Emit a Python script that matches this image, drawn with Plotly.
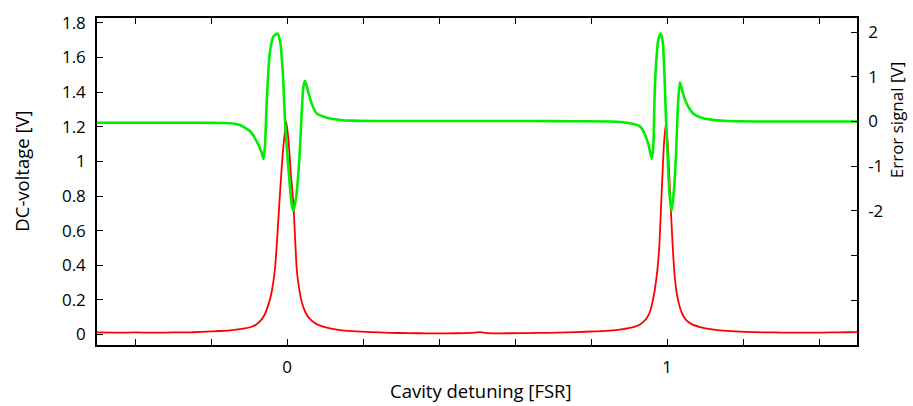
import plotly.graph_objects as go

# ---- DC-voltage (red, left axis) ----
dc_x = [-0.5, -0.45, -0.4, -0.35, -0.3, -0.25, -0.2, -0.15, -0.12, -0.093, -0.075, -0.06,
        -0.0465, -0.04, -0.0316, -0.026, -0.020, -0.015, -0.009, -0.002, 0.004, 0.010, 0.0167,
        0.021, 0.0255, 0.031, 0.0386, 0.048, 0.06, 0.078, 0.095, 0.113, 0.14, 0.17, 0.22, 0.27,
        0.32, 0.37, 0.42, 0.47, 0.495, 0.51, 0.525, 0.56, 0.61, 0.66, 0.71, 0.76, 0.81, 0.85,
        0.88, 0.911, 0.93, 0.945, 0.955, 0.962, 0.968, 0.975, 0.980, 0.984, 0.988, 0.992, 0.997,
        1.002, 1.006, 1.0097, 1.014, 1.018, 1.023, 1.030, 1.04, 1.05, 1.065, 1.087, 1.11,
        1.14, 1.18, 1.23, 1.28, 1.33, 1.38, 1.43, 1.47, 1.5]
dc_y = [0.012, 0.011, 0.012, 0.011, 0.012, 0.013, 0.018, 0.024, 0.032, 0.045, 0.068, 0.11,
        0.19, 0.25, 0.38, 0.55, 0.76, 0.93, 1.10, 1.23, 1.12, 0.93, 0.76,
        0.57, 0.38, 0.28, 0.19, 0.13, 0.09, 0.06, 0.045, 0.036, 0.026, 0.02, 0.014, 0.010,
        0.008, 0.007, 0.007, 0.008, 0.011, 0.014, 0.008, 0.007, 0.008, 0.009, 0.011, 0.014, 0.018,
        0.022, 0.030, 0.043, 0.06, 0.09, 0.13, 0.19, 0.26, 0.38, 0.52, 0.72, 0.92, 1.10, 1.22,
        1.10, 0.92, 0.74, 0.55, 0.40, 0.28, 0.19, 0.12, 0.085, 0.06, 0.043, 0.032,
        0.024, 0.018, 0.014, 0.012, 0.011, 0.011, 0.012, 0.013, 0.014]

# ---- Error signal (green, right axis) ----
err_x = [-0.5, -0.4, -0.3, -0.22, -0.17, -0.15, -0.124, -0.097, -0.080, -0.067, -0.062, -0.058,
         -0.0535, -0.049, -0.0447, -0.036, -0.0255, -0.018, -0.0113, -0.0053, -0.0009, 0.006,
         0.0123, 0.0167, 0.0237, 0.0325, 0.0386, 0.043, 0.0474, 0.056, 0.065, 0.078, 0.095,
         0.115, 0.14, 0.17, 0.25, 0.35, 0.45, 0.55, 0.65, 0.75, 0.85, 0.9026, 0.929, 0.942,
         0.951, 0.960, 0.964, 0.968, 0.973, 0.977, 0.983, 0.9887, 0.993, 0.9974, 1.002, 1.006,
         1.0123, 1.018, 1.024, 1.029, 1.034, 1.041, 1.0518, 1.069, 1.0956, 1.125, 1.16, 1.25,
         1.35, 1.45, 1.5]
err_y = [-0.03, -0.03, -0.03, -0.03, -0.035, -0.04, -0.08, -0.22, -0.44, -0.69, -0.84, -0.55,
         0.40, 1.13, 1.57, 1.90, 1.97, 1.79, 1.13, 0.04, -0.55, -1.28,
         -1.86, -2.0, -1.72, -0.84, 0.18, 0.77, 0.91, 0.66, 0.40, 0.18, 0.11,
         0.06, 0.035, 0.02, 0.01, 0.01, 0.01, 0.01, 0.01, 0.005, 0.0, -0.04, -0.11, -0.29,
         -0.51, -0.84, -0.55, 0.77, 1.50, 1.83, 1.97, 1.79, 1.13, 0.04, -0.84, -1.57,
         -2.0, -1.57, -0.69, 0.40, 0.88, 0.66, 0.40, 0.18, 0.07, 0.03, 0.01, 0.0,
         0.0, 0.0, 0.0]

x_ticks = [-0.4, -0.2, 0.0, 0.2, 0.4, 0.6, 0.8, 1.0, 1.2, 1.4]
x_labels = ["", "", "0", "", "", "", "", "1", "", ""]
y_ticks = [0, 0.2, 0.4, 0.6, 0.8, 1.0, 1.2, 1.4, 1.6, 1.8]
y_labels = ["0", "0.2", "0.4", "0.6", "0.8", "1", "1.2", "1.4", "1.6", "1.8"]
y2_ticks = [-4, -3, -2, -1, 0, 1, 2]
y2_labels = ["", "", "-2", "-1", "0", "1", "2"]

FONT = "Open Sans"
TICK_SIZE = 17
TITLE_SIZE = 18.5

fig = go.Figure()
fig.add_trace(go.Scatter(x=err_x, y=err_y, yaxis="y2", mode="lines",
                         line=dict(color="#00ee00", width=2.6, shape="spline", smoothing=0.6),
                         showlegend=False))
fig.add_trace(go.Scatter(x=dc_x, y=dc_y, mode="lines",
                         line=dict(color="#ff0000", width=1.8, shape="spline", smoothing=0.5),
                         showlegend=False))

axis_common = dict(showline=True, linecolor="black", linewidth=1.5, showgrid=False,
                   zeroline=False, ticks="inside", ticklen=6, tickcolor="black", tickwidth=1,
                   tickfont=dict(family=FONT, size=TICK_SIZE, color="black"))

fig.update_layout(
    width=913, height=406,
    margin=dict(l=97, r=56, t=11, b=61),
    paper_bgcolor="white", plot_bgcolor="white",
    xaxis=dict(range=[-0.5, 1.5], tickmode="array", tickvals=x_ticks, ticktext=x_labels,
               mirror="ticks", ticklabelstandoff=6, **axis_common),
    yaxis=dict(range=[-0.0605, 1.828], tickmode="array", tickvals=y_ticks, ticktext=y_labels,
               mirror=True, ticklabelstandoff=6, **axis_common),
    yaxis2=dict(range=[-5.007, 2.318], tickmode="array", tickvals=y2_ticks, ticktext=y2_labels,
                overlaying="y", side="right", ticklabelstandoff=6, **axis_common),
    annotations=[
        dict(text="Cavity detuning [FSR]", xref="paper", yref="paper", x=0.505, y=-0.138,
             xanchor="center", yanchor="middle", showarrow=False,
             font=dict(family=FONT, size=TITLE_SIZE, color="black")),
        dict(text="DC-voltage [V]", xref="paper", yref="paper", x=-0.0987, y=0.533,
             xanchor="center", yanchor="middle", showarrow=False, textangle=-90,
             font=dict(family=FONT, size=TITLE_SIZE, color="black")),
        dict(text="Error signal [V]", xref="paper", yref="paper", x=1.052, y=0.686,
             xanchor="center", yanchor="middle", showarrow=False, textangle=-90,
             font=dict(family=FONT, size=17, color="black")),
    ],
)

fig.write_html("out.html")
